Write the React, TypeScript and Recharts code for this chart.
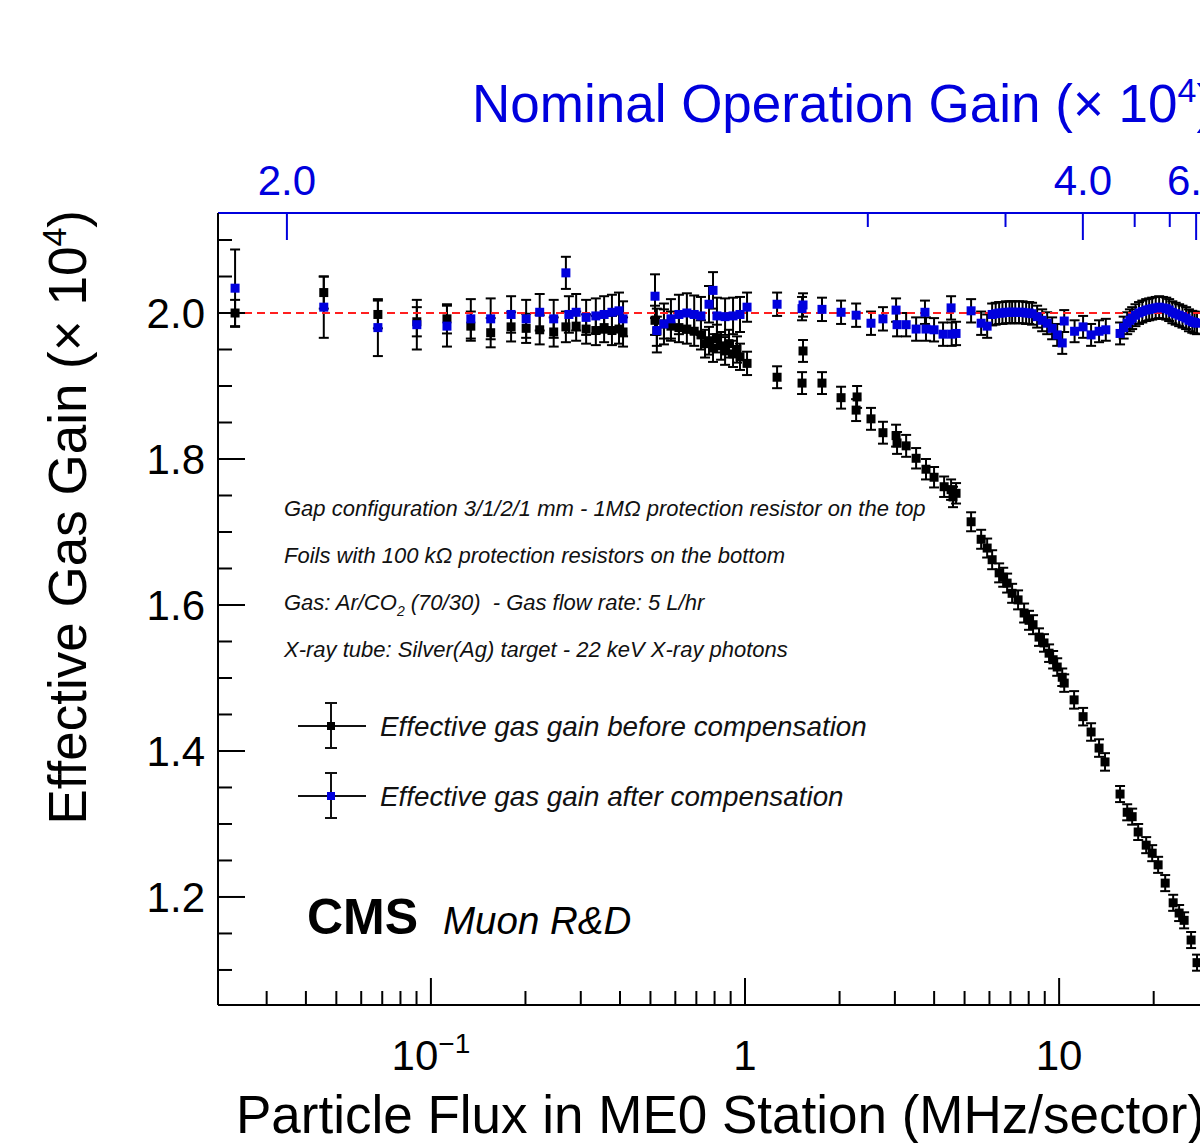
import React from 'react';
import { ComposedChart, Scatter, XAxis, YAxis, ErrorBar, ReferenceLine, Legend } from 'recharts';

const FONT = '"Liberation Sans", Arial, Helvetica, sans-serif';
const BLUE = '#0000dd';
const RED = '#ff1f1f';

// ---- Data: [flux (MHz/sector), effective gain (x1e4), error] ----
const beforeLow: number[][] = [
  [0.0238, 2.000, 0.018], [0.0456, 2.028, 0.022], [0.0678, 1.998, 0.019], [0.0902, 1.988, 0.020],
  [0.1125, 1.992, 0.020], [0.134, 1.982, 0.020], [0.155, 1.973, 0.020], [0.180, 1.981, 0.020],
  [0.201, 1.979, 0.020], [0.222, 1.977, 0.020], [0.246, 1.974, 0.020], [0.269, 1.981, 0.021],
  [0.290, 1.982, 0.020], [0.312, 1.978, 0.020], [0.335, 1.976, 0.020], [0.356, 1.980, 0.020],
  [0.377, 1.976, 0.020], [0.397, 1.978, 0.020], [0.409, 1.974, 0.020],
];
const beforeMid: number[][] = [
  [0.517, 1.990, 0.020], [0.524, 1.975, 0.020], [0.552, 1.985, 0.020], [0.581, 1.982, 0.020],
  [0.616, 1.980, 0.020], [0.653, 1.978, 0.020], [0.689, 1.975, 0.020], [0.724, 1.970, 0.020],
  [0.746, 1.958, 0.019], [0.768, 1.962, 0.019], [0.791, 1.952, 0.019], [0.814, 1.965, 0.019],
  [0.839, 1.955, 0.019], [0.864, 1.948, 0.019], [0.889, 1.958, 0.019], [0.916, 1.944, 0.018],
  [0.943, 1.950, 0.018], [0.964, 1.940, 0.018], [1.015, 1.931, 0.016],
];
const beforeHigh: number[][] = [
  [1.265, 1.912, 0.015], [1.519, 1.904, 0.015], [1.530, 1.948, 0.015], [1.758, 1.904, 0.015],
  [2.022, 1.884, 0.015], [2.258, 1.867, 0.015], [2.274, 1.885, 0.015], [2.518, 1.855, 0.015],
  [2.749, 1.836, 0.015], [3.026, 1.832, 0.015], [3.048, 1.822, 0.015], [3.258, 1.818, 0.015],
  [3.505, 1.801, 0.014], [3.768, 1.786, 0.014], [3.998, 1.775, 0.014], [4.304, 1.762, 0.014],
  [4.529, 1.758, 0.014], [4.594, 1.748, 0.014], [4.697, 1.753, 0.014], [5.245, 1.714, 0.013],
  [5.646, 1.690, 0.013], [5.900, 1.678, 0.013], [6.120, 1.662, 0.013], [6.442, 1.644, 0.013],
  [6.637, 1.638, 0.013], [6.830, 1.630, 0.013], [7.085, 1.616, 0.013], [7.401, 1.607, 0.013],
  [7.736, 1.589, 0.013], [8.02, 1.579, 0.013], [8.26, 1.573, 0.013], [8.63, 1.556, 0.012],
  [8.95, 1.548, 0.012], [9.29, 1.534, 0.012], [9.57, 1.525, 0.012], [9.86, 1.515, 0.012],
  [10.23, 1.501, 0.012], [10.38, 1.493, 0.012], [11.16, 1.470, 0.012], [11.92, 1.447, 0.012],
  [12.64, 1.426, 0.012], [13.40, 1.404, 0.012], [14.00, 1.385, 0.012], [15.63, 1.341, 0.011],
  [16.47, 1.316, 0.011], [17.08, 1.310, 0.011], [17.85, 1.289, 0.011], [18.93, 1.271, 0.011],
  [19.78, 1.260, 0.011], [20.66, 1.244, 0.011], [21.76, 1.219, 0.011], [23.07, 1.192, 0.011],
  [24.10, 1.178, 0.011], [25.00, 1.168, 0.011], [26.31, 1.141, 0.011], [27.48, 1.110, 0.011],
];

const afterLow: number[][] = [
  [0.0238, 2.034, 0.053], [0.0456, 2.008, 0.042], [0.0678, 1.980, 0.039], [0.0902, 1.984, 0.034],
  [0.1125, 1.982, 0.028], [0.134, 1.992, 0.027], [0.155, 1.992, 0.028], [0.180, 1.998, 0.025],
  [0.201, 1.992, 0.026], [0.222, 2.001, 0.025], [0.246, 1.992, 0.026], [0.269, 2.055, 0.022],
  [0.275, 1.998, 0.025], [0.290, 2.001, 0.025], [0.312, 1.994, 0.024], [0.335, 1.996, 0.024],
  [0.356, 1.998, 0.025], [0.377, 2.001, 0.024], [0.397, 2.003, 0.025], [0.409, 1.992, 0.024],
];
const afterMid: number[][] = [
  [0.517, 2.023, 0.030], [0.524, 1.976, 0.030], [0.552, 1.985, 0.028], [0.581, 1.992, 0.027],
  [0.616, 1.998, 0.027], [0.653, 2.000, 0.027], [0.689, 1.998, 0.026], [0.724, 1.996, 0.026],
  [0.768, 2.012, 0.025], [0.791, 2.031, 0.025], [0.814, 1.996, 0.025], [0.864, 1.995, 0.025],
  [0.916, 1.996, 0.025], [0.964, 1.998, 0.024], [1.015, 2.008, 0.020],
];
const afterHigh: number[][] = [
  [1.265, 2.012, 0.016], [1.519, 2.006, 0.016], [1.530, 2.011, 0.016], [1.758, 2.005, 0.016],
  [2.022, 2.001, 0.016], [2.258, 1.997, 0.016], [2.518, 1.986, 0.016], [2.749, 1.992, 0.016],
  [3.026, 2.004, 0.016], [3.048, 1.984, 0.016], [3.258, 1.984, 0.016], [3.505, 1.978, 0.016],
  [3.74, 2.001, 0.016], [3.768, 1.978, 0.016], [3.998, 1.977, 0.016], [4.27, 1.971, 0.016],
  [4.529, 2.007, 0.016], [4.55, 1.971, 0.016], [4.697, 1.972, 0.016], [5.245, 2.003, 0.016],
  [5.646, 1.986, 0.016], [5.900, 1.982, 0.016], [6.120, 1.998, 0.015], [6.28, 1.999, 0.015],
  [6.442, 2.000, 0.015], [6.6, 2.000, 0.015], [6.77, 2.001, 0.015], [6.95, 2.001, 0.015],
  [7.085, 2.001, 0.015], [7.25, 2.001, 0.015], [7.45, 2.001, 0.015], [7.65, 2.001, 0.015],
  [7.85, 2.000, 0.015], [8.03, 2.000, 0.015], [8.20, 1.999, 0.015], [8.51, 1.995, 0.015],
  [8.83, 1.990, 0.015], [9.16, 1.986, 0.015], [9.50, 1.979, 0.015], [9.86, 1.970, 0.015],
  [10.23, 1.959, 0.015], [10.38, 1.989, 0.015], [11.2, 1.975, 0.015], [11.92, 1.981, 0.015],
  [12.64, 1.970, 0.015], [13.40, 1.975, 0.015], [14.08, 1.977, 0.015], [15.63, 1.972, 0.015],
  [16.05, 1.980, 0.015], [16.47, 1.986, 0.015], [16.8, 1.990, 0.015], [17.08, 1.993, 0.015],
  [17.5, 1.997, 0.015], [17.96, 2.000, 0.015], [18.4, 2.002, 0.015], [18.93, 2.004, 0.015],
  [19.35, 2.005, 0.015], [19.78, 2.006, 0.015], [20.3, 2.007, 0.015], [20.82, 2.008, 0.015],
  [21.4, 2.007, 0.015], [21.93, 2.006, 0.015], [22.4, 2.004, 0.015], [22.93, 2.001, 0.015],
  [23.5, 1.999, 0.015], [24.10, 1.997, 0.015], [24.7, 1.995, 0.015], [25.37, 1.993, 0.015],
  [25.9, 1.990, 0.015], [26.54, 1.988, 0.015], [27.0, 1.987, 0.015], [27.48, 1.986, 0.015],
];

// ---- Axes ----
const X_DOMAIN = [0.021, 30];
const Y_DOMAIN = [1.052, 2.137];
const NOMINAL_GAIN = 2.0;

const bottomTicks = [0.03, 0.04, 0.05, 0.06, 0.07, 0.08, 0.09, 0.1, 0.2, 0.3, 0.4, 0.5, 0.6, 0.7, 0.8, 0.9, 1, 2, 3, 4, 5, 6, 7, 8, 9, 10, 20];
const bottomMajor = [0.1, 1, 10];
const bottomLabels = [['10', '\u22121'], ['1', ''], ['10', '']];

const topTickFlux = [0.0348, 2.46, 6.75, 11.9, 17.4, 22.5, 27.3];
const topTickLabels = ['2.0', '', '', '4.0', '', '', '6.0'];

const leftTicks = [1.10, 1.15, 1.20, 1.25, 1.30, 1.35, 1.40, 1.45, 1.50, 1.55, 1.60, 1.65, 1.70, 1.75, 1.80, 1.85, 1.90, 1.95, 2.00, 2.05, 2.10];
const leftMajor = [1.2, 1.4, 1.6, 1.8, 2.0];
const leftLabels = ['1.2', '1.4', '1.6', '1.8', '2.0'];

const SERIES_BEFORE = 'Effective gas gain before compensation';
const SERIES_AFTER = 'Effective gas gain after compensation';
const legendOrder = [SERIES_BEFORE, SERIES_AFTER];

const annotations = [
  'Gap configuration 3/1/2/1 mm - 1M\u03A9 protection resistor on the top',
  'Foils with 100 k\u03A9 protection resistors on the bottom',
  'Gas: Ar/CO|2| (70/30)  - Gas flow rate: 5 L/hr',
  'X-ray tube: Silver(Ag) target - 22 keV X-ray photons',
];

const toRows = (groups: number[][][]) =>
  groups.flat().map(([flux, gain, err]) => ({ flux, gain, err }));
const beforeData = toRows([beforeLow, beforeMid, beforeHigh]);
const afterData = toRows([afterLow, afterMid, afterHigh]);

const MAJOR = 27;
const MINOR = 14;

function LeftTick(props: any) {
  const { x, y, payload } = props;
  const v = payload.value;
  const mi = leftMajor.findIndex((m) => Math.abs(m - v) < 1e-6);
  const major = mi >= 0;
  return (
    <g>
      <line x1={x} y1={y} x2={x + (major ? MAJOR : MINOR)} y2={y} stroke="#000" strokeWidth={2} />
      {major && (
        <text x={x - 13} y={y + 15} textAnchor="end" fontSize={42} fontFamily={FONT} fill="#000">
          {leftLabels[mi]}
        </text>
      )}
    </g>
  );
}

function BottomTick(props: any) {
  const { x, y, payload } = props;
  const v = payload.value;
  const mi = bottomMajor.findIndex((m) => Math.abs(m - v) / m < 1e-6);
  const major = mi >= 0;
  return (
    <g>
      <line x1={x} y1={y} x2={x} y2={y - (major ? MAJOR : MINOR)} stroke="#000" strokeWidth={2} />
      {major && (
        <text x={x} y={y + 65} textAnchor="middle" fontSize={42} fontFamily={FONT} fill="#000">
          {bottomLabels[mi][0]}
          {bottomLabels[mi][1] && (
            <tspan dy={-17} fontSize={28}>{bottomLabels[mi][1]}</tspan>
          )}
        </text>
      )}
    </g>
  );
}

function TopTick(props: any) {
  const { x, y, payload } = props;
  const idx = topTickFlux.findIndex((f) => Math.abs(f - payload.value) / f < 1e-6);
  const label = idx >= 0 ? topTickLabels[idx] : '';
  const major = label !== '';
  return (
    <g>
      <line x1={x} y1={y} x2={x} y2={y + (major ? MAJOR : MINOR)} stroke={BLUE} strokeWidth={2} />
      {major && (
        <text x={x} y={y - 18} textAnchor="middle" fontSize={42} fontFamily={FONT} fill={BLUE}>
          {label}
        </text>
      )}
    </g>
  );
}

const makeSquare = (color: string) => (props: any) => {
  const { cx, cy } = props;
  if (cx == null || cy == null || isNaN(cx) || isNaN(cy)) return <g />;
  return <rect x={cx - 4.5} y={cy - 4.5} width={9} height={9} fill={color} />;
};

function renderLegend(props: any) {
  const payload = [...(props.payload || [])].sort(
    (a: any, b: any) => legendOrder.indexOf(a.value) - legendOrder.indexOf(b.value)
  );
  return (
    <svg width={620} height={150} style={{ overflow: 'visible' }}>
      {payload.map((entry: any, i: number) => {
        const cy = 36 + i * 70;
        return (
          <g key={i}>
            <line x1={8} y1={cy} x2={76} y2={cy} stroke="#111" strokeWidth={2} />
            <line x1={41} y1={cy - 23} x2={41} y2={cy + 22} stroke="#111" strokeWidth={2} />
            <line x1={35} y1={cy - 23} x2={47} y2={cy - 23} stroke="#111" strokeWidth={2} />
            <line x1={35} y1={cy + 22} x2={47} y2={cy + 22} stroke="#111" strokeWidth={2} />
            <rect x={37} y={cy - 4} width={8} height={8} fill={entry.color} />
            <text x={90} y={cy + 10} fontSize={27.8} fontStyle="italic" fontFamily={FONT} fill="#111">
              {entry.value}
            </text>
          </g>
        );
      })}
    </svg>
  );
}

function AnnotationLine({ text, x, y }: { text: string; x: number; y: number }) {
  const parts = text.split('|');
  return (
    <text x={x} y={y} fontSize={22} fontStyle="italic" fontFamily={FONT} fill="#111" style={{ whiteSpace: 'pre' }}>
      {parts.length === 1 ? (
        text
      ) : (
        <>
          <tspan>{parts[0]}</tspan>
          <tspan dy={6} fontSize={14}>{parts[1]}</tspan>
          <tspan dy={-6}>{parts[2]}</tspan>
        </>
      )}
    </text>
  );
}

export default function App() {
  return (
    <div
      style={{
        position: 'absolute',
        left: 0,
        top: 0,
        width: 1200,
        height: 1143,
        overflow: 'hidden',
        background: '#fff',
      }}
    >
      <ComposedChart width={1260} height={1143} margin={{ top: 183, right: 51, bottom: 108, left: 158 }}>
        <XAxis
          xAxisId="bottom"
          orientation="bottom"
          dataKey="flux"
          type="number"
          scale="log"
          domain={X_DOMAIN}
          allowDataOverflow
          ticks={bottomTicks}
          interval={0}
          tickSize={0}
          tickMargin={0}
          tickLine={false}
          tick={(p: any) => <BottomTick {...p} />}
          height={30}
          axisLine={{ stroke: '#000', strokeWidth: 2 }}
        />
        <XAxis
          xAxisId="top"
          orientation="top"
          dataKey="flux"
          type="number"
          scale="log"
          domain={X_DOMAIN}
          allowDataOverflow
          ticks={topTickFlux}
          interval={0}
          tickSize={0}
          tickMargin={0}
          tickLine={false}
          tick={(p: any) => <TopTick {...p} />}
          height={30}
          axisLine={{ stroke: BLUE, strokeWidth: 2 }}
        />
        <YAxis
          yAxisId="left"
          dataKey="gain"
          type="number"
          domain={Y_DOMAIN}
          allowDataOverflow
          ticks={leftTicks}
          interval={0}
          tickSize={0}
          tickMargin={0}
          tickLine={false}
          tick={(p: any) => <LeftTick {...p} />}
          width={60}
          axisLine={{ stroke: '#000', strokeWidth: 2 }}
        />
        <Scatter
          name={SERIES_BEFORE}
          data={beforeData}
          xAxisId="bottom"
          yAxisId="left"
          dataKey="gain"
          fill="#000"
          shape={makeSquare('#000')}
          isAnimationActive={false}
        >
          <ErrorBar dataKey="err" direction="y" width={5} stroke="#000" strokeWidth={2} isAnimationActive={false} />
        </Scatter>
        <Scatter
          name={SERIES_AFTER}
          data={afterData}
          xAxisId="bottom"
          yAxisId="left"
          dataKey="gain"
          fill={BLUE}
          shape={makeSquare(BLUE)}
          isAnimationActive={false}
        >
          <ErrorBar dataKey="err" direction="y" width={5} stroke="#000" strokeWidth={2} isAnimationActive={false} />
        </Scatter>
        <ReferenceLine
          xAxisId="bottom"
          yAxisId="left"
          y={NOMINAL_GAIN}
          stroke={RED}
          strokeWidth={2}
          strokeDasharray="8 5"
        />
        <Legend
          layout="horizontal"
          verticalAlign="middle"
          align="center"
          content={renderLegend}
          wrapperStyle={{ position: 'absolute', left: 290, top: 690, width: 620, height: 150 }}
        />
        {/* Axis titles */}
        <text x={472} y={122} fontSize={53} fontFamily={FONT} fill={BLUE}>
          Nominal Operation Gain ({'\u00D7'} 10<tspan dy={-20} fontSize={34}>4</tspan><tspan dy={20}>)</tspan>
        </text>
        <text x={236} y={1133} fontSize={53} fontFamily={FONT} fill="#000">
          Particle Flux in ME0 Station (MHz/sector)
        </text>
        <text
          x={86}
          y={210}
          fontSize={53}
          fontFamily={FONT}
          fill="#000"
          textAnchor="end"
          transform="rotate(-90 86 210)"
        >
          Effective Gas Gain ({'\u00D7'} 10<tspan dy={-20} fontSize={34}>4</tspan><tspan dy={20}>)</tspan>
        </text>
        {/* Annotations */}
        {annotations.map((t, i) => (
          <AnnotationLine key={i} text={t} x={284} y={516 + i * 47} />
        ))}
        <text x={307} y={934} fontSize={50} fontWeight="bold" fontFamily={FONT} fill="#000">CMS</text>
        <text x={443} y={934} fontSize={38.5} fontStyle="italic" fontFamily={FONT} fill="#000">Muon R&amp;D</text>
      </ComposedChart>
    </div>
  );
}
